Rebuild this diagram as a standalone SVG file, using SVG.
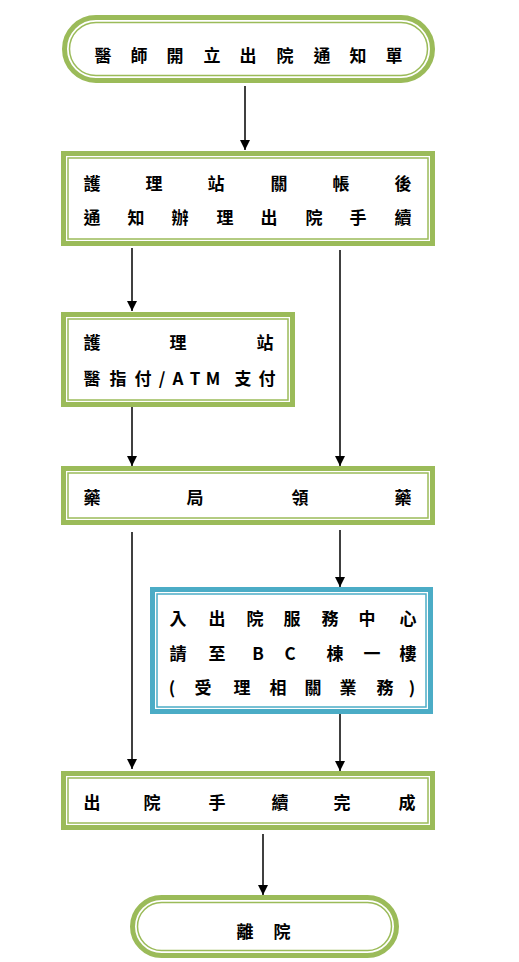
<svg xmlns="http://www.w3.org/2000/svg" width="519" height="962" viewBox="0 0 519 962">
<style>
.o{fill:#fff;stroke:#9BBB59;stroke-width:5}
.i{fill:none;stroke:#9BBB59;stroke-width:1.5}
.ob{fill:#fff;stroke:#4BACC6;stroke-width:5}
.ib{fill:none;stroke:#4BACC6;stroke-width:1.5}
text{font-family:"Noto Sans CJK TC","Noto Sans CJK SC",sans-serif;font-size:17px;font-weight:700;fill:#000;text-anchor:middle}
.c{stroke:#000;stroke-width:1.5;fill:none}
</style>
<defs>
<marker id="a" viewBox="0 0 10 10" refX="10" refY="5" markerWidth="10" markerHeight="10" markerUnits="userSpaceOnUse" orient="auto">
<path d="M0,0 L10,5 L0,10 z" fill="#000"/>
</marker>
</defs>
<g id="connectors">
<line class="c" x1="245" y1="86" x2="245" y2="150" marker-end="url(#a)"/>
<line class="c" x1="132" y1="248" x2="132" y2="311" marker-end="url(#a)"/>
<line class="c" x1="340" y1="250" x2="340" y2="466" marker-end="url(#a)"/>
<line class="c" x1="132" y1="406" x2="132" y2="466" marker-end="url(#a)"/>
<line class="c" x1="132" y1="532" x2="132" y2="769" marker-end="url(#a)"/>
<line class="c" x1="340" y1="530" x2="340" y2="587" marker-end="url(#a)"/>
<line class="c" x1="340" y1="714" x2="340" y2="771" marker-end="url(#a)"/>
<line class="c" x1="263" y1="834" x2="263" y2="895" marker-end="url(#a)"/>
</g>
<g id="n1">
<rect class="o" x="64.5" y="17.5" width="368" height="63" rx="31.5"/>
<rect class="i" x="69.5" y="22.5" width="358" height="53" rx="26.5"/>
<text x="103" y="62">醫</text><text x="139" y="62">師</text><text x="175" y="62">開</text><text x="212" y="62">立</text><text x="248" y="62">出</text><text x="285" y="62">院</text><text x="322" y="62">通</text><text x="358" y="62">知</text><text x="394" y="62">單</text>
</g>
<g id="n2">
<rect class="o" x="63.5" y="153.5" width="369" height="90"/>
<rect class="i" x="68" y="158" width="360" height="81"/>
<text x="92" y="190">護</text><text x="154" y="190">理</text><text x="216" y="190">站</text><text x="279" y="190">關</text><text x="341" y="190">帳</text><text x="403" y="190">後</text>
<text x="92" y="224">通</text><text x="136" y="224">知</text><text x="180" y="224">辦</text><text x="225" y="224">理</text><text x="269" y="224">出</text><text x="314" y="224">院</text><text x="358" y="224">手</text><text x="403" y="224">續</text>
</g>
<g id="n3">
<rect class="o" x="63.5" y="314.5" width="229" height="90"/>
<rect class="i" x="68" y="319" width="220" height="81"/>
<text x="92" y="349">護</text><text x="178" y="349">理</text><text x="265" y="349">站</text>
<text x="92" y="385">醫</text><text x="118" y="385">指</text><text x="143" y="385">付</text><text x="162" y="385">/</text><text x="178" y="385">A</text><text x="195" y="385">T</text><text x="213" y="385">M</text><text x="243" y="385">支</text><text x="267" y="385">付</text>
</g>
<g id="n4">
<rect class="o" x="63.5" y="468.5" width="369" height="54"/>
<rect class="i" x="68" y="473" width="360" height="45"/>
<text x="92" y="504">藥</text><text x="195" y="504">局</text><text x="300" y="504">領</text><text x="403" y="504">藥</text>
</g>
<g id="n5">
<rect class="ob" x="152.5" y="589.5" width="278" height="122"/>
<rect class="ib" x="157" y="594" width="269" height="113"/>
<text x="178" y="625">入</text><text x="217" y="625">出</text><text x="255" y="625">院</text><text x="292" y="625">服</text><text x="330" y="625">務</text><text x="367" y="625">中</text><text x="408" y="625">心</text>
<text x="178" y="660">請</text><text x="217" y="660">至</text><text x="258" y="660">B</text><text x="290" y="660">C</text><text x="335" y="660">棟</text><text x="372" y="660">一</text><text x="408" y="660">樓</text>
<text x="172" y="694">(</text><text x="203" y="694">受</text><text x="242" y="694">理</text><text x="278" y="694">相</text><text x="313" y="694">關</text><text x="348" y="694">業</text><text x="385" y="694">務</text><text x="412" y="694">)</text>
</g>
<g id="n6">
<rect class="o" x="63.5" y="773.5" width="369" height="54"/>
<rect class="i" x="68" y="778" width="360" height="45"/>
<text x="92" y="809">出</text><text x="152" y="809">院</text><text x="217" y="809">手</text><text x="280" y="809">續</text><text x="342" y="809">完</text><text x="407" y="809">成</text>
</g>
<g id="n7">
<rect class="o" x="132.5" y="897.5" width="264" height="58" rx="29"/>
<rect class="i" x="137.5" y="902.5" width="254" height="48" rx="24"/>
<text x="245" y="938">離</text><text x="282" y="938">院</text>
</g>
</svg>
